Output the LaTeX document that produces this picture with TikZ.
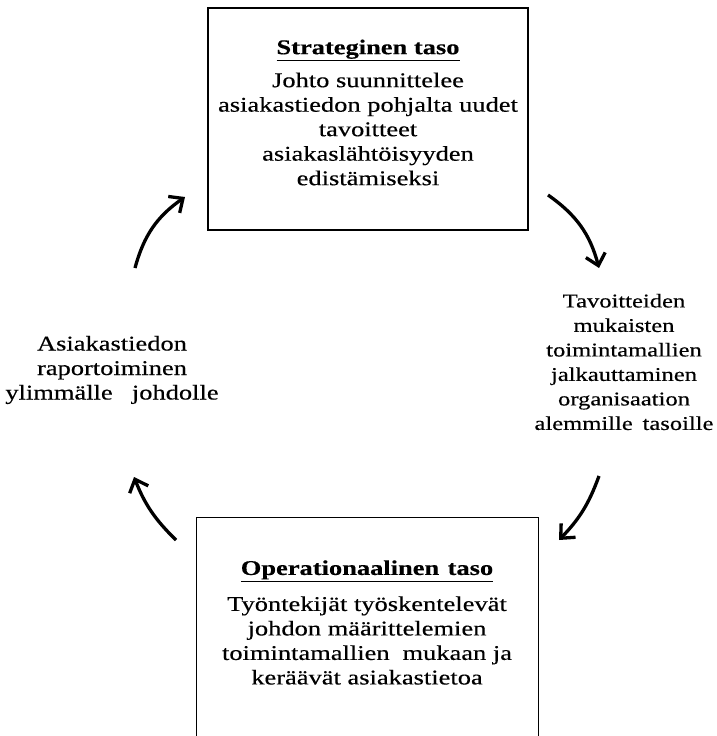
\documentclass[tikz,border=0pt]{standalone}
\usepackage{fontspec}
\setmainfont{Liberation Serif}[FakeStretch=1.26, FakeBold=0.4]
\usetikzlibrary{arrows.meta}
\begin{document}
\begin{tikzpicture}[x=1pt, y=-1pt,
  box/.style={rectangle, draw, line width=1.4pt},
  txt/.style={align=center, inner sep=0pt, font=\fontsize{21}{24.5}\selectfont},
  loop/.style={line width=3.3pt, -{Straight Barb[length=11pt, width=20pt]}}]
\useasboundingbox (0, 0) rectangle (716, 736);
\node at (368, 119) (stratbox) [box, minimum width=320pt, minimum height=222pt] {};
\node at (368, 112.5) (strat) [txt] {\underline{\textbf{Strateginen taso}}\\[8.5pt]
  Johto suunnittelee\\ asiakastiedon pohjalta uudet\\ tavoitteet\\ asiakaslähtöisyyden\\ edistämiseksi};
\node at (367.5, 517) (operbox) [box, anchor=north, minimum width=342pt, minimum height=260pt] {};
\node at (367, 622.5) (oper) [txt] {\underline{\textbf{Operationaalinen\hspace{0.4em}taso}}\\[11.5pt]
  Työntekijät työskentelevät\\ johdon määrittelemien\\ toimintamallien\hspace{0.3em} mukaan ja\\ keräävät asiakastietoa};
\node at (624, 362) (jalk) [txt, font=\fontsize{19.5}{24.5}\selectfont] {Tavoitteiden\\ mukaisten\\ toimintamallien\\ jalkauttaminen\\ organisaation\\ alemmille\hspace{0.5em}tasoille};
\node at (112, 370) (rap) [txt] {Asiakastiedon\\ raportoiminen\\ ylimmälle\hspace{0.6em} johdolle};
\coordinate (a1) at (548, 195);
\coordinate (b1) at (599, 268);
\coordinate (a2) at (599, 476);
\coordinate (b2) at (559, 540);
\coordinate (a3) at (176, 540);
\coordinate (b3) at (134, 477);
\coordinate (a4) at (135, 268);
\coordinate (b4) at (185, 197);
\draw [loop] (a1) to[bend left=20] (b1);
\draw [loop] (a2) to[bend left=12] (b2);
\draw [loop] (a3) to[bend left=12] (b3);
\draw [loop] (a4) to[bend left=20] (b4);
\end{tikzpicture}
\end{document}
